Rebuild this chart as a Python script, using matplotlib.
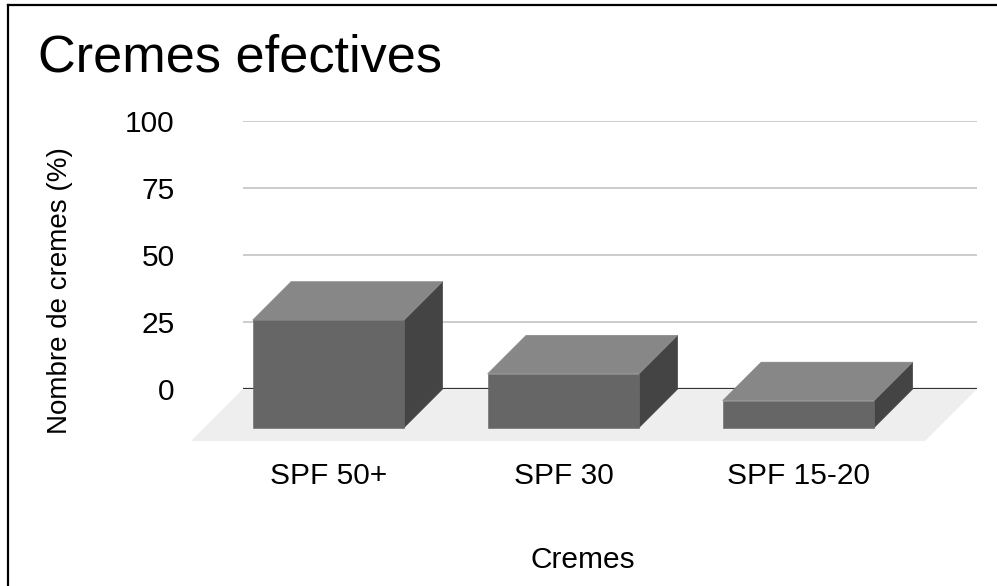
import matplotlib
matplotlib.use("Agg")
import matplotlib.pyplot as plt
import matplotlib.transforms as mtransforms
from matplotlib.patches import Polygon
from matplotlib.lines import Line2D

plt.rcParams['font.family'] = ['Liberation Sans', 'DejaVu Sans']

# Data
categories = ["SPF 50+", "SPF 30", "SPF 15-20"]
values = [40, 20, 10]
y_ticks = [0, 25, 50, 75, 100]

title = "Cremes efectives"
x_title = "Cremes"
y_title = "Nombre de cremes (%)"

# Figure geometry (pixels)
W, H = 997, 586
fig = plt.figure(figsize=(W / 100, H / 100), dpi=100)
fig.patch.set_facecolor("white")

# back wall of the 3D box
ax_l, ax_r, ax_b, ax_t = 243, 977, 389, 120.5
ax = fig.add_axes([ax_l / W, 1 - ax_b / H, (ax_r - ax_l) / W, (ax_b - ax_t) / H])
xmin, xmax = -0.527, 2.596
ax.set_xlim(xmin, xmax)
ax.set_ylim(0, 100)
for s in ax.spines.values():
    s.set_visible(False)

px_x = (ax_r - ax_l) / (xmax - xmin)
px_y = (ax_b - ax_t) / 100.0

bar_depth = 38.5
floor_depth = 52.0
bdx, bdy = bar_depth / px_x, bar_depth / px_y
fdx, fdy = floor_depth / px_x, floor_depth / px_y
bar_w = 0.645

c_front, c_top, c_side = "#666666", "#878787", "#444444"

# floor
floor = Polygon([(xmin, 0), (xmax, 0), (xmax - fdx, -fdy), (xmin - fdx, -fdy)],
                closed=True, facecolor="#eeeeee", edgecolor="none",
                zorder=0.3, clip_on=False)
ax.add_patch(floor)

# gridlines
for t in y_ticks[1:]:
    ax.axhline(t, color="#cccccc", lw=1.4, zorder=0.5)
ax.axhline(0, color="#333333", lw=1.6, zorder=1.0)

# 3D bars
for i, v in enumerate(values):
    l, r = i - bar_w / 2, i + bar_w / 2
    front = Polygon([(l - bdx, -bdy), (r - bdx, -bdy), (r - bdx, v - bdy), (l - bdx, v - bdy)],
                    closed=True, facecolor=c_front, edgecolor=c_front, lw=0.4,
                    zorder=3, clip_on=False)
    top = Polygon([(l - bdx, v - bdy), (r - bdx, v - bdy), (r, v), (l, v)],
                  closed=True, facecolor=c_top, edgecolor=c_top, lw=0.4,
                  zorder=2, clip_on=False)
    side = Polygon([(r - bdx, -bdy), (r, 0), (r, v), (r - bdx, v - bdy)],
                   closed=True, facecolor=c_side, edgecolor=c_side, lw=0.4,
                   zorder=2, clip_on=False)
    for p in (side, top, front):
        ax.add_patch(p)

# axis ticks
ax.set_xticks([])
ax.set_yticks(y_ticks)
ax.set_yticklabels([str(t) for t in y_ticks])
ax.tick_params(axis="y", length=0, pad=49.3, labelsize=21.5, labelcolor="#000000")

# category labels under the front faces
blend = mtransforms.blended_transform_factory(ax.transData, fig.transFigure)
for i, c in enumerate(categories):
    ax.text(i - bdx, 1 - 484 / H, c, transform=blend, ha="center", va="baseline",
            fontsize=21.5, color="#000000")

# titles
fig.text(38 / W, 1 - 71 / H, title, ha="left", va="baseline", fontsize=37.6, color="#000000")
fig.text(583 / W, 1 - 568 / H, x_title, ha="center", va="baseline", fontsize=21.5, color="#000000")
fig.text(60 / W, 1 - 291 / H, y_title, ha="center", va="center", rotation=90,
         fontsize=20, color="#000000")

# outer frame (left and top)
fig.add_artist(Line2D([8 / W, 8 / W], [0, 1 - 5 / H], color="black", lw=1.6,
                      transform=fig.transFigure))
fig.add_artist(Line2D([8 / W, 1], [1 - 5 / H, 1 - 5 / H], color="black", lw=1.6,
                      transform=fig.transFigure))

fig.savefig("out.png", dpi=100)
